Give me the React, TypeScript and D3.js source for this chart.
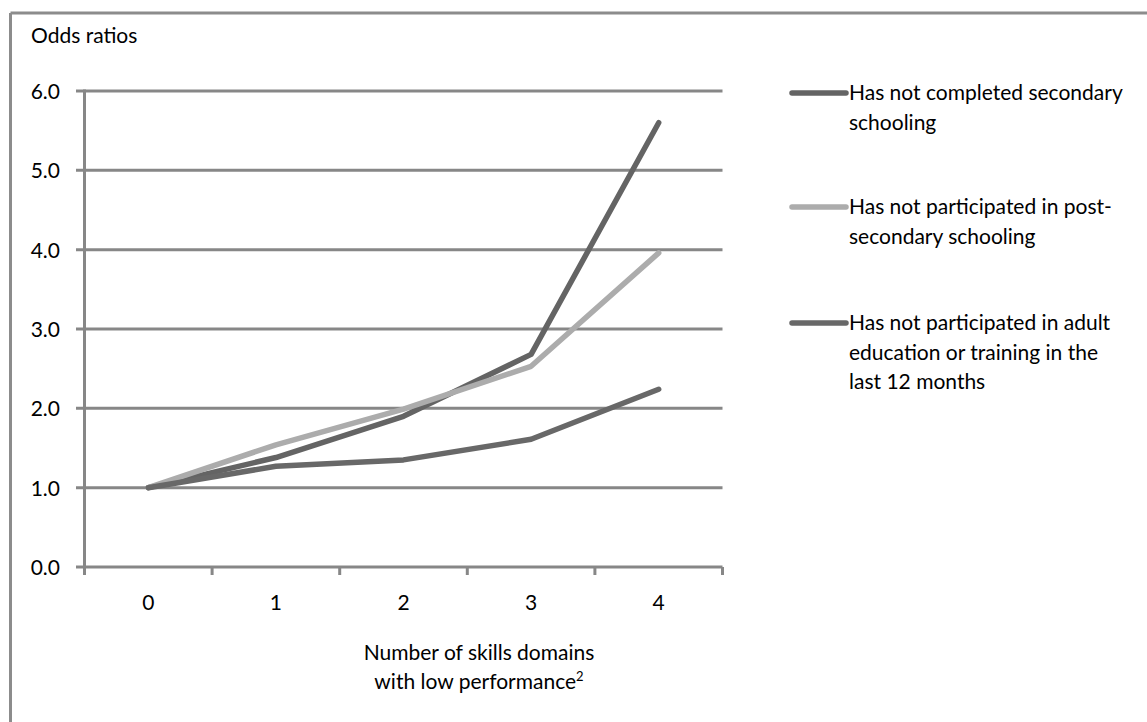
import React from "react";
import * as d3 from "d3";

const categories = ["0", "1", "2", "3", "4"];
const yTicks = [0, 1, 2, 3, 4, 5, 6];
const seriesSecondary = [1.0, 1.38, 1.9, 2.68, 5.6];
const seriesPostSecondary = [1.0, 1.54, 1.99, 2.53, 3.96];
const seriesAdultEd = [1.0, 1.27, 1.35, 1.61, 2.24];
const legendLabels = [
  ["Has not completed secondary", "schooling"],
  ["Has not participated in post-", "secondary schooling"],
  ["Has not participated in adult", "education or training in the", "last 12 months"],
];
const seriesColors = ["#646464", "#acacac", "#686868"];

const FONT = "Lato, 'Open Sans', sans-serif";

export default function App() {
  const x0 = 84.5, x1 = 722.5, yTop = 91, yBot = 567;
  const x = d3.scaleBand<string>().domain(categories).range([x0, x1]);
  const y = d3.scaleLinear().domain([0, 6]).range([yBot, yTop]);
  const series = [seriesSecondary, seriesPostSecondary, seriesAdultEd];
  const line = d3
    .line<number>()
    .x((_, i) => (x(categories[i]) as number) + x.bandwidth() / 2)
    .y((d) => y(d));
  const drawOrder = [0, 1, 2];
  const legendY = [93, 207, 323];
  const grid = "#878787";
  return (
    <svg
      width={1147}
      height={722}
      style={{ position: "absolute", left: 0, top: 0, background: "#fff" }}
      fontFamily={FONT}
    >
      <rect x={0} y={0} width={1147} height={722} fill="#fff" />
      <line x1={10.5} y1={13} x2={1147} y2={13} stroke="#8c8c8c" strokeWidth={3} />
      <line x1={10.5} y1={13} x2={10.5} y2={722} stroke="#8c8c8c" strokeWidth={3} />
      <text x={31} y={43} fontSize={21} fill="#000">Odds ratios</text>
      {yTicks.map((t) => (
        <g key={t}>
          <line x1={76} x2={x1} y1={y(t)} y2={y(t)} stroke={grid} strokeWidth={3} />
          <text x={60} y={y(t) + 8} fontSize={21} textAnchor="end" fill="#000">
            {t.toFixed(1)}
          </text>
        </g>
      ))}
      <line x1={x0} x2={x0} y1={yTop - 1.5} y2={yBot + 8} stroke={grid} strokeWidth={3} />
      {categories.map((c, i) => (
        <g key={c}>
          <line
            x1={x0 + (i + 1) * x.bandwidth()}
            x2={x0 + (i + 1) * x.bandwidth()}
            y1={yBot}
            y2={yBot + 8}
            stroke={grid}
            strokeWidth={3}
          />
          <text
            x={(x(c) as number) + x.bandwidth() / 2}
            y={610}
            fontSize={21}
            textAnchor="middle"
            fill="#000"
          >
            {c}
          </text>
        </g>
      ))}
      <text x={479} y={660} fontSize={21} textAnchor="middle" fill="#000">
        Number of skills domains
      </text>
      <text x={479} y={689} fontSize={21} textAnchor="middle" fill="#000">
        with low performance<tspan fontSize={13} dy={-8}>2</tspan>
      </text>
      {drawOrder.map((si) => (
        <path
          key={si}
          d={line(series[si]) as string}
          fill="none"
          stroke={seriesColors[si]}
          strokeWidth={5.5}
          strokeLinejoin="round"
          strokeLinecap="round"
        />
      ))}
      {legendLabels.map((lines, i) => (
        <g key={i}>
          <line
            x1={792}
            x2={846}
            y1={legendY[i]}
            y2={legendY[i]}
            stroke={seriesColors[i]}
            strokeWidth={5.5}
            strokeLinecap="round"
          />
          {lines.map((l, j) => (
            <text key={j} x={849} y={legendY[i] + 7 + j * 29.5} fontSize={21} fill="#000">
              {l}
            </text>
          ))}
        </g>
      ))}
    </svg>
  );
}
